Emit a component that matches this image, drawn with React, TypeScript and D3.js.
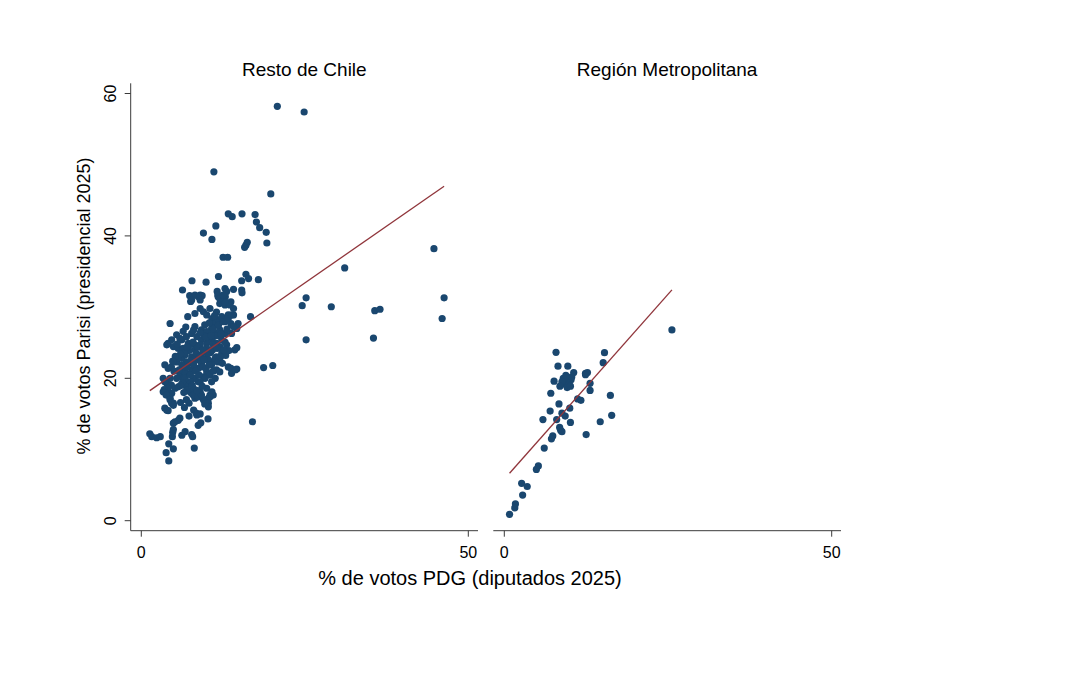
import React from "react";
import * as d3 from "d3";

// Scatter: % Parisi (presidencial 2025) vs % PDG (diputados 2025), by zone
const panelTitles = ["Resto de Chile", "Región Metropolitana"];
const xTicks = [0, 50];
const yTicks = [0, 20, 40, 60];
const xTitle = "% de votos PDG (diputados 2025)";
const yTitle = "% de votos Parisi (presidencial 2025)";

// [PDG %, Parisi %]
const restoPoints: [number, number][] = [
  [20.8, 58.2], [24.9, 57.4], [11.1, 49.0], [19.8, 45.9], [13.3, 43.1], [13.9, 42.7],
  [15.4, 43.1], [17.4, 43.0], [17.6, 41.95], [18.1, 41.15], [11.4, 41.4], [9.5, 40.4],
  [10.8, 39.5], [19.1, 40.5], [19.2, 39.0], [16.0, 38.7], [16.2, 39.1], [15.8, 38.4],
  [12.5, 37.0], [13.2, 37.0], [44.75, 38.2], [31.1, 35.5], [11.8, 34.3], [16.0, 34.6],
  [16.4, 34.0], [17.9, 33.85], [15.35, 33.7], [7.75, 33.7], [9.9, 33.5], [6.3, 32.4],
  [11.6, 32.2], [12.8, 32.6], [14.1, 32.5], [15.35, 32.4], [15.4, 32.0], [46.3, 31.3],
  [25.2, 31.3], [24.6, 30.2], [29.05, 30.05], [35.7, 29.5], [36.5, 29.7], [46.0, 28.4],
  [25.2, 25.4], [35.5, 25.65], [18.7, 21.5], [20.1, 21.8], [17.0, 13.9], [16.7, 28.65],
  [7.4, 31.6], [8.2, 31.7], [9.0, 31.7], [9.3, 31.6], [11.75, 31.45], [12.85, 31.45],
  [7.55, 30.8], [8.7, 31.5], [13.05, 32.2], [11.7, 31.7], [12.0, 30.5], [12.8, 30.3],
  [13.7, 30.75], [14.1, 29.8], [9.0, 29.8], [9.5, 29.35], [10.0, 28.9], [7.1, 28.65],
  [4.4, 27.7], [10.8, 28.4], [11.3, 27.7], [11.8, 28.2], [12.3, 28.65], [13.3, 28.9],
  [14.1, 28.9], [12.8, 27.95], [13.7, 27.7], [14.8, 27.7], [8.2, 27.25], [9.2, 26.8],
  [9.7, 27.5], [10.25, 26.5], [10.75, 27.0], [11.3, 26.3], [12.0, 26.8], [12.8, 26.3],
  [13.8, 26.3], [14.6, 27.0], [14.1, 27.25], [5.4, 26.1], [6.2, 25.4], [6.9, 25.85],
  [7.7, 26.3], [8.5, 25.85], [7.2, 24.9], [8.2, 24.7], [9.2, 25.4], [10.0, 24.9],
  [10.8, 25.4], [11.5, 24.9], [12.3, 25.4], [13.05, 24.7], [4.1, 24.9], [4.9, 24.45],
  [5.65, 24.2], [4.65, 25.4], [3.9, 24.7], [14.3, 24.0], [14.6, 24.3], [13.3, 21.6],
  [13.8, 20.7], [14.6, 21.3], [13.7, 21.4], [14.4, 21.2], [3.6, 21.9], [4.1, 21.4],
  [4.6, 21.6], [3.35, 20.0], [3.9, 19.3], [4.6, 19.05], [5.15, 18.6], [3.6, 18.1],
  [4.4, 20.0], [3.6, 19.5], [4.1, 18.6], [4.65, 17.9], [4.4, 17.2], [5.9, 20.5],
  [6.4, 20.0], [6.9, 20.7], [7.2, 19.3], [7.95, 20.0], [8.7, 19.5], [9.5, 20.2],
  [10.0, 20.9], [10.5, 20.45], [11.3, 20.0], [12.0, 20.9], [5.4, 22.3], [6.2, 22.8],
  [6.9, 22.3], [7.7, 23.0], [8.5, 22.6], [9.2, 23.3], [10.0, 22.8], [10.8, 22.3],
  [11.5, 23.0], [12.3, 23.5], [6.4, 24.2], [7.45, 24.7], [8.2, 24.0], [9.0, 24.7],
  [10.0, 24.2], [11.0, 24.7], [12.0, 24.45], [12.8, 25.1], [10.0, 26.55], [11.0, 27.0],
  [11.8, 27.5], [12.5, 27.95], [13.3, 28.4], [13.8, 28.9], [13.55, 30.3], [12.8, 30.75],
  [12.0, 31.2], [12.5, 31.7], [9.0, 31.0], [7.7, 31.0], [5.65, 22.8], [6.7, 23.3],
  [6.2, 21.9], [7.2, 22.1], [8.2, 22.8], [7.7, 21.2], [8.7, 21.4], [9.2, 22.1],
  [10.25, 22.6], [10.75, 21.9], [11.3, 22.8], [11.5, 21.2], [9.75, 20.0], [9.0, 19.5],
  [8.2, 20.0], [7.45, 19.5], [6.7, 20.0], [6.9, 18.8], [7.95, 18.6], [9.0, 18.1],
  [10.0, 18.6], [10.75, 19.5], [11.0, 17.65], [10.25, 17.2], [9.5, 17.0], [8.2, 17.2],
  [7.7, 17.9], [5.65, 18.8], [5.4, 20.0], [3.5, 18.4], [3.8, 17.9], [3.35, 18.1],
  [3.8, 17.65], [4.4, 17.0], [4.9, 16.5], [4.65, 16.5], [4.9, 16.2], [3.6, 15.8],
  [4.1, 15.45], [3.9, 15.5], [6.9, 17.0], [7.3, 16.5], [8.0, 15.55], [8.4, 15.1],
  [9.0, 15.0], [7.45, 18.1], [7.95, 17.65], [8.7, 17.4], [9.2, 17.65], [10.25, 16.5],
  [10.25, 16.0], [10.5, 17.65], [10.8, 18.1], [10.5, 17.4], [8.5, 14.85], [4.9, 13.7],
  [5.15, 13.9], [5.65, 14.1], [5.9, 14.4], [8.7, 13.4], [9.1, 13.75], [10.2, 14.3],
  [4.75, 11.8], [4.8, 12.4], [4.9, 12.8], [6.2, 12.0], [6.7, 12.5], [7.7, 12.1],
  [7.85, 11.8], [1.3, 12.2], [1.6, 11.8], [2.35, 11.65], [2.9, 11.8], [4.9, 10.1],
  [4.2, 10.8], [8.1, 10.2], [4.2, 8.4], [3.8, 9.55], [6.5, 21.0], [7.0, 21.6],
  [7.6, 22.5], [8.0, 21.9], [8.4, 23.5], [8.9, 23.0], [9.4, 21.6], [9.8, 23.8],
  [10.3, 25.6], [10.6, 23.6], [11.1, 25.9], [11.6, 26.0], [12.2, 26.2], [9.6, 26.0],
  [9.0, 26.4], [8.6, 24.4], [7.9, 25.1], [7.3, 23.9], [6.6, 23.6], [6.0, 23.4],
  [5.8, 21.2], [6.3, 19.4], [7.0, 18.3], [7.8, 19.0], [8.5, 18.3], [9.3, 18.9],
  [9.9, 21.4], [10.4, 21.9], [11.0, 21.0], [11.7, 22.3], [12.4, 22.1], [12.9, 23.2],
  [13.4, 23.9], [13.1, 26.9], [11.5, 29.3], [10.5, 29.8], [8.2, 29.1], [6.8, 27.2],
  [5.9, 25.6], [5.2, 23.1], [4.8, 22.4], [5.0, 21.0], [6.0, 16.6], [6.6, 15.9],
  [7.3, 14.7], [9.7, 16.4], [6.0, 19.0], [6.5, 18.0], [7.5, 20.5], [8.3, 21.0],
  [8.8, 20.5], [9.6, 22.6], [10.2, 23.5], [10.9, 24.0], [11.6, 24.2], [12.1, 23.0],
  [12.6, 24.0], [9.4, 24.0], [8.0, 26.8], [10.4, 27.8], [11.2, 28.8], [6.4, 26.6],
  [5.5, 24.8], [7.0, 24.4], [9.9, 25.8], [10.7, 26.0],
];

const rmPoints: [number, number][] = [
  [7.9, 23.65], [15.3, 23.6], [15.1, 22.2], [8.2, 21.7], [9.7, 21.7], [10.6, 20.8],
  [12.4, 20.7], [12.7, 20.8], [12.4, 20.5], [9.0, 20.0], [9.5, 19.6], [10.2, 19.8],
  [9.2, 19.2], [9.9, 19.1], [8.8, 19.5], [9.6, 18.7], [10.1, 18.9], [10.3, 20.2],
  [9.4, 20.4], [8.5, 18.9], [7.6, 19.6], [13.1, 19.3], [13.1, 18.3], [7.1, 17.9],
  [16.2, 17.6], [11.2, 17.1], [11.7, 16.9], [8.35, 16.4], [10.0, 15.8], [7.0, 15.4],
  [8.8, 15.1], [9.3, 14.7], [5.9, 14.2], [8.0, 14.2], [10.1, 13.8], [16.4, 14.8],
  [14.65, 13.9], [8.45, 13.1], [8.6, 12.7], [8.8, 12.5], [12.5, 12.1], [7.4, 11.9],
  [7.2, 11.5], [6.1, 10.2], [5.2, 7.7], [4.9, 7.2], [2.65, 5.25], [3.5, 4.8],
  [2.8, 3.6], [1.7, 2.35], [1.6, 1.8], [0.8, 0.9], [25.6, 26.8],
];

// linear fits (intercept, slope)
const restoFit = [17.44, 0.638];
const rmFit = [5.84, 1.038];

const NAVY = "#1a476f";
const MAROON = "#90353b";
const AXIS = "#3a3a3a";
const FONT = "'Liberation Sans', Arial, sans-serif";

const panels = [
  { title: panelTitles[0], points: restoPoints, fit: restoFit, x0: 141.3, x1: 468.3, left: 130.7, right: 478, yAxis: true },
  { title: panelTitles[1], points: rmPoints, fit: rmFit, x0: 504.3, x1: 831.7, left: 493.3, right: 841, yAxis: false },
];

const y = d3.scaleLinear().domain([0, 60]).range([520.7, 93.5]);
const axisY = 530.7;
const axisTop = 83.3;

export default function App() {
  return (
    <svg
      width={1091}
      height={679}
      style={{ position: "absolute", left: 0, top: 0, display: "block", background: "#fff" }}
      fontFamily={FONT}
    >
      <rect width={1091} height={679} fill="#fff" />
      {panels.map((p, i) => {
        const x = d3.scaleLinear().domain([0, 50]).range([p.x0, p.x1]);
        const ext = d3.extent(p.points, (d) => d[0]) as [number, number];
        const line = d3
          .line<number>()
          .x((v) => x(v))
          .y((v) => y(p.fit[0] + p.fit[1] * v));
        return (
          <g key={i}>
            <text x={(p.left + p.right) / 2} y={76} textAnchor="middle" fontSize={19} fill="#000">
              {p.title}
            </text>
            {p.yAxis && (
              <g>
                <line x1={p.left} x2={p.left} y1={axisTop} y2={axisY} stroke={AXIS} strokeWidth={1} />
                {yTicks.map((t) => (
                  <g key={t}>
                    <line x1={p.left - 6} x2={p.left} y1={y(t)} y2={y(t)} stroke={AXIS} strokeWidth={1} />
                    <text
                      transform={`translate(115.5,${y(t)}) rotate(-90)`}
                      textAnchor="middle"
                      fontSize={16}
                      fill="#000"
                    >
                      {t}
                    </text>
                  </g>
                ))}
              </g>
            )}
            <line x1={p.left} x2={p.right} y1={axisY} y2={axisY} stroke={AXIS} strokeWidth={1} />
            {xTicks.map((t) => (
              <g key={t}>
                <line x1={x(t)} x2={x(t)} y1={axisY} y2={axisY + 6} stroke={AXIS} strokeWidth={1} />
                <text x={x(t)} y={557.5} textAnchor="middle" fontSize={16} fill="#000">
                  {t}
                </text>
              </g>
            ))}
            {p.points.map((d, j) => (
              <circle key={j} cx={x(d[0])} cy={y(d[1])} r={3.6} fill={NAVY} />
            ))}
            <path d={line(ext) ?? ""} fill="none" stroke={MAROON} strokeWidth={1.3} />
          </g>
        );
      })}
      <text x={470} y={585} textAnchor="middle" fontSize={20} fill="#000">
        {xTitle}
      </text>
      <text transform="translate(89.5,306) rotate(-90)" textAnchor="middle" fontSize={18} fill="#000">
        {yTitle}
      </text>
    </svg>
  );
}
